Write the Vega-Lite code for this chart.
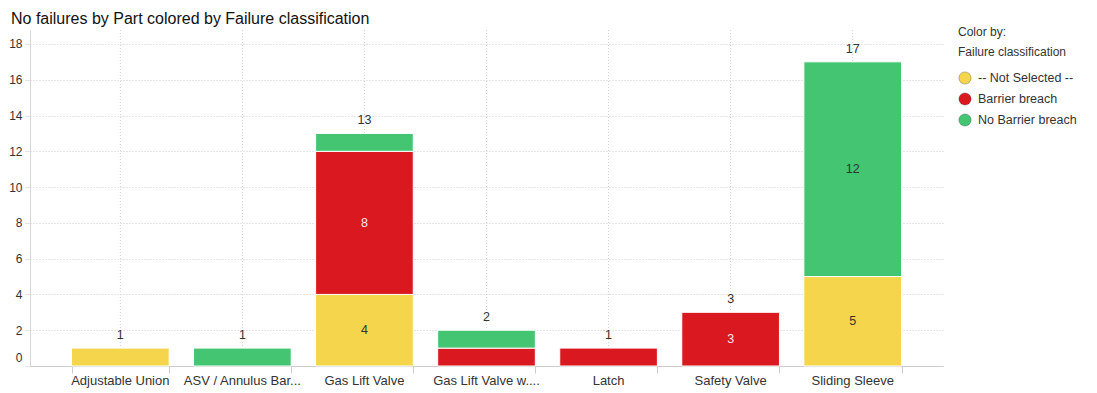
{
  "$schema": "https://vega.github.io/schema/vega-lite/v6.json",
  "width": 913,
  "height": 336,
  "autosize": {"type": "none"},
  "padding": {"left": 30, "top": 30, "right": 154, "bottom": 27},
  "background": "white",
  "config": {
    "font": "Liberation Sans",
    "view": {"stroke": null}
  },
  "title": {
    "text": "No failures by Part colored by Failure classification",
    "anchor": "start",
    "frame": "group",
    "fontSize": 16,
    "fontWeight": "normal",
    "color": "#111",
    "dx": -19,
    "offset": 0
  },
  "data": {
    "values": [
      {"Part": "Adjustable Union", "Class": "-- Not Selected --", "Count": 1},
      {"Part": "ASV / Annulus Bar...", "Class": "No Barrier breach", "Count": 1},
      {"Part": "Gas Lift Valve", "Class": "-- Not Selected --", "Count": 4},
      {"Part": "Gas Lift Valve", "Class": "Barrier breach", "Count": 8},
      {"Part": "Gas Lift Valve", "Class": "No Barrier breach", "Count": 1},
      {"Part": "Gas Lift Valve w....", "Class": "Barrier breach", "Count": 1},
      {"Part": "Gas Lift Valve w....", "Class": "No Barrier breach", "Count": 1},
      {"Part": "Latch", "Class": "Barrier breach", "Count": 1},
      {"Part": "Safety Valve", "Class": "Barrier breach", "Count": 3},
      {"Part": "Sliding Sleeve", "Class": "-- Not Selected --", "Count": 5},
      {"Part": "Sliding Sleeve", "Class": "No Barrier breach", "Count": 12}
    ]
  },
  "resolve": {"axis": {"x": "independent"}},
  "layer": [
    {
      "transform": [{"aggregate": [{"op": "count", "as": "n"}], "groupby": ["Part"]}],
      "mark": {"type": "rule", "color": "#d0d0d0", "strokeDash": [1, 2], "strokeWidth": 1},
      "encoding": {
        "x": {
          "field": "Part",
          "type": "nominal",
          "sort": null,
          "axis": {
            "orient": "bottom",
            "title": null,
            "labels": false,
            "domain": false,
            "grid": false,
            "ticks": true,
            "tickBand": "extent",
            "tickSize": 7,
            "tickColor": "#cccccc"
          }
        }
      }
    },
    {
      "mark": {"type": "bar", "stroke": "white", "strokeWidth": 1},
      "encoding": {
        "x": {
          "field": "Part",
          "type": "nominal",
          "sort": null,
          "scale": {"paddingInner": 0.2, "paddingOuter": 0.34},
          "axis": {
            "orient": "bottom",
            "title": null,
            "labelAngle": 0,
            "labelFontSize": 13,
            "labelColor": "#333",
            "labelPadding": 8,
            "ticks": false,
            "domainColor": "#cccccc",
            "grid": false
          }
        },
        "y": {
          "field": "Count",
          "type": "quantitative",
          "aggregate": "sum",
          "scale": {"domain": [0, 18.78], "nice": false},
          "axis": {
            "title": null,
            "values": [0, 2, 4, 6, 8, 10, 12, 14, 16, 18],
            "labelOverlap": false,
            "labelFontSize": 12,
            "labelColor": "#333",
            "labelPadding": 3,
            "labelOffset": {"condition": {"test": "datum.value === 0", "value": -9}, "value": 0},
            "tickSize": 5,
            "tickColor": "#cccccc",
            "tickDash": [1, 1],
            "domainColor": "#d6d6d6",
            "gridColor": "#cccccc",
            "gridDash": [1, 2]
          }
        },
        "order": {"field": "Class", "sort": "ascending"},
        "color": {
          "field": "Class",
          "type": "nominal",
          "scale": {
            "domain": ["-- Not Selected --", "Barrier breach", "No Barrier breach"],
            "range": ["#F4D54B", "#D9191F", "#43C571"]
          },
          "legend": {
            "orient": "none",
            "legendX": 928,
            "legendY": -3,
            "title": ["Color by:", "Failure classification"],
            "titleFontSize": 12,
            "titleFontWeight": "normal",
            "titleColor": "#333",
            "titleLineHeight": 20,
            "titlePadding": 12,
            "symbolType": "circle",
            "symbolSize": 150,
            "symbolStrokeColor": "rgba(0,0,0,0.25)",
            "symbolStrokeWidth": 1,
            "symbolOpacity": 1,
            "labelFontSize": 12.5,
            "labelColor": "#333",
            "labelOffset": 6,
            "rowPadding": 3
          }
        }
      }
    },
    {
      "mark": {"type": "text", "baseline": "bottom", "dy": -6, "fontSize": 12.5, "color": "#333"},
      "encoding": {
        "x": {"field": "Part", "type": "nominal", "sort": null, "axis": null},
        "y": {
          "field": "Count",
          "type": "quantitative",
          "aggregate": "sum",
          "axis": {
            "title": null,
            "values": [0, 2, 4, 6, 8, 10, 12, 14, 16, 18],
            "labelOverlap": false,
            "labelFontSize": 12,
            "labelColor": "#333",
            "labelPadding": 3,
            "labelOffset": {"condition": {"test": "datum.value === 0", "value": -9}, "value": 0},
            "tickSize": 5,
            "tickColor": "#cccccc",
            "tickDash": [1, 1],
            "domainColor": "#d6d6d6",
            "gridColor": "#cccccc",
            "gridDash": [1, 2]
          }
        },
        "text": {"field": "Count", "aggregate": "sum", "type": "quantitative"}
      }
    },
    {
      "transform": [
        {"stack": "Count", "groupby": ["Part"], "sort": [{"field": "Class", "order": "ascending"}], "as": ["y0", "y1"]},
        {"calculate": "(datum.y0 + datum.y1) / 2", "as": "mid"},
        {"filter": "datum.Count >= 3"}
      ],
      "mark": {"type": "text", "baseline": "middle", "fontSize": 12.5},
      "encoding": {
        "x": {"field": "Part", "type": "nominal", "sort": null, "axis": null},
        "y": {
          "field": "mid",
          "type": "quantitative",
          "axis": {
            "title": null,
            "values": [0, 2, 4, 6, 8, 10, 12, 14, 16, 18],
            "labelOverlap": false,
            "labelFontSize": 12,
            "labelColor": "#333",
            "labelPadding": 3,
            "labelOffset": {"condition": {"test": "datum.value === 0", "value": -9}, "value": 0},
            "tickSize": 5,
            "tickColor": "#cccccc",
            "tickDash": [1, 1],
            "domainColor": "#d6d6d6",
            "gridColor": "#cccccc",
            "gridDash": [1, 2]
          }
        },
        "text": {"field": "Count", "type": "quantitative"},
        "color": {"condition": {"test": "datum.Class === 'Barrier breach'", "value": "#fde4e4"}, "value": "#333"}
      }
    }
  ]
}
